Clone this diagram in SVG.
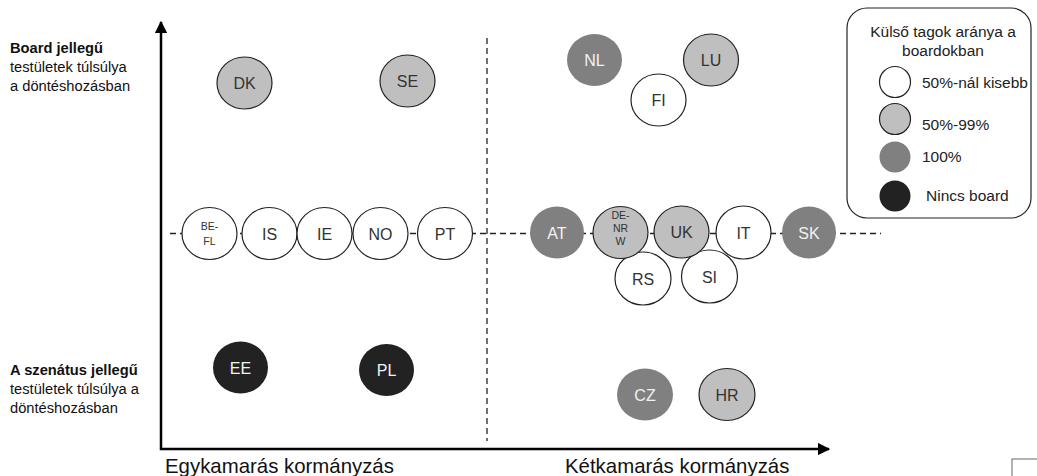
<svg xmlns="http://www.w3.org/2000/svg" width="1037" height="476" viewBox="0 0 1037 476">
<style>
text{font-family:"Liberation Sans",Arial,sans-serif}
.lbl{font-size:16px;text-anchor:middle;fill:#333}
.sm{font-size:10.5px;text-anchor:middle;fill:#333}
.w{fill:#fff;stroke:#222;stroke-width:1.2}
.g{fill:#bfbfbf;stroke:#222;stroke-width:1.2}
.d{fill:#808080}
.b{fill:#222}
.side{font-size:14.7px;fill:#111}
.ax{font-size:20.4px;fill:#111}
.leg{font-size:15.5px;fill:#222}
.dash{stroke:#222;stroke-width:1.3;stroke-dasharray:6 4;fill:none}
</style>
<defs>
<marker id="ah" viewBox="0 0 10 10" refX="9" refY="5" markerWidth="5" markerHeight="5" orient="auto-start-reverse" markerUnits="strokeWidth">
<path d="M0,0 L10,5 L0,10 z" fill="#000"/>
</marker>
</defs>
<rect width="1037" height="476" fill="#fff"/>

<g id="connectors">
<line class="dash" x1="487" y1="38" x2="487" y2="441"/>
<line class="dash" x1="170" y1="233.5" x2="881" y2="233.5"/>
<polyline points="161,28 161,449 822,449" fill="none" stroke="#000" stroke-width="2.5"/>
<line x1="161" y1="32" x2="161" y2="22" stroke="#000" stroke-width="2.5" marker-end="url(#ah)"/>
<line x1="818" y1="449" x2="829" y2="449" stroke="#000" stroke-width="2.5" marker-end="url(#ah)"/>
</g>

<g id="axis-labels">
<text class="side" x="10" y="53" font-weight="bold">Board jellegű</text>
<text class="side" x="10" y="72">testületek túlsúlya</text>
<text class="side" x="10" y="91">a döntéshozásban</text>
<text class="side" x="10" y="375" font-weight="bold">A szenátus jellegű</text>
<text class="side" x="10" y="394">testületek túlsúlya a</text>
<text class="side" x="10" y="413">döntéshozásban</text>
<text class="ax" x="165" y="473">Egykamarás kormányzás</text>
<text class="ax" x="565" y="473">Kétkamarás kormányzás</text>
</g>

<g id="node-DK"><ellipse class="g" cx="244.5" cy="83" rx="27.5" ry="26"/><text class="lbl" x="244.5" y="89">DK</text></g>
<g id="node-SE"><ellipse class="g" cx="407.5" cy="81" rx="27.5" ry="26"/><text class="lbl" x="407.5" y="87">SE</text></g>
<g id="node-NL"><ellipse class="d" cx="594.5" cy="60" rx="27.5" ry="26"/><text class="lbl" x="594.5" y="66" style="fill:#f2f2f2">NL</text></g>
<g id="node-LU"><ellipse class="g" cx="711" cy="60" rx="27.5" ry="26"/><text class="lbl" x="711" y="66">LU</text></g>
<g id="node-FI"><ellipse class="w" cx="658.5" cy="100" rx="27.5" ry="26"/><text class="lbl" x="658.5" y="106">FI</text></g>

<g id="node-BE-FL"><ellipse class="w" cx="209.5" cy="233.5" rx="27.5" ry="26"/><text class="sm" x="209.5" y="230">BE-</text><text class="sm" x="209.5" y="244.5">FL</text></g>
<g id="node-IS"><ellipse class="w" cx="269.5" cy="233.5" rx="27.5" ry="26"/><text class="lbl" x="269.5" y="239.5">IS</text></g>
<g id="node-IE"><ellipse class="w" cx="324.5" cy="233.5" rx="27.5" ry="26"/><text class="lbl" x="324.5" y="239.5">IE</text></g>
<g id="node-NO"><ellipse class="w" cx="380.5" cy="233.5" rx="27.5" ry="26"/><text class="lbl" x="380.5" y="239.5">NO</text></g>
<g id="node-PT"><ellipse class="w" cx="445" cy="233.5" rx="27.5" ry="26"/><text class="lbl" x="445" y="239.5">PT</text></g>

<g id="node-AT"><ellipse class="d" cx="557" cy="232.5" rx="27" ry="26"/><text class="lbl" x="557" y="238.5" style="fill:#f2f2f2">AT</text></g>
<g id="node-RS"><ellipse class="w" cx="643" cy="278.5" rx="28" ry="26.5"/><text class="lbl" x="643" y="284.5">RS</text></g>
<g id="node-SI"><ellipse class="w" cx="709.5" cy="276.5" rx="28" ry="26.5"/><text class="lbl" x="709.5" y="282.5">SI</text></g>
<g id="node-DE-NRW"><ellipse class="g" cx="620.5" cy="232.5" rx="27.5" ry="26"/><text class="sm" x="620.5" y="219">DE-</text><text class="sm" x="620.5" y="232">NR</text><text class="sm" x="620.5" y="245">W</text></g>
<g id="node-UK"><ellipse class="g" cx="681.5" cy="232" rx="27.5" ry="26"/><text class="lbl" x="681.5" y="238">UK</text></g>
<g id="node-IT"><ellipse class="w" cx="743.5" cy="232.5" rx="27.5" ry="26.5"/><text class="lbl" x="743.5" y="238.5">IT</text></g>
<g id="node-SK"><ellipse class="d" cx="809" cy="232.5" rx="27" ry="26"/><text class="lbl" x="809" y="238.5" style="fill:#f2f2f2">SK</text></g>

<g id="node-EE"><ellipse class="b" cx="240.5" cy="367.5" rx="27.5" ry="26"/><text class="lbl" x="240.5" y="373.5" style="fill:#f2f2f2">EE</text></g>
<g id="node-PL"><ellipse class="b" cx="386.5" cy="370" rx="27.5" ry="26"/><text class="lbl" x="386.5" y="376" style="fill:#f2f2f2">PL</text></g>
<g id="node-CZ"><ellipse class="d" cx="645" cy="394.5" rx="28" ry="26"/><text class="lbl" x="645" y="400.5" style="fill:#f2f2f2">CZ</text></g>
<g id="node-HR"><ellipse class="g" cx="727" cy="394.5" rx="28" ry="26"/><text class="lbl" x="727" y="400.5">HR</text></g>

<g id="legend">
<rect x="847" y="8" width="184" height="210" rx="20" ry="20" fill="#fff" stroke="#222" stroke-width="1.2"/>
<text class="leg" x="943" y="37" text-anchor="middle">Külső tagok aránya a</text>
<text class="leg" x="943" y="56" text-anchor="middle">boardokban</text>
<circle class="w" cx="895" cy="82" r="15.5"/>
<text class="leg" x="922" y="88">50%-nál kisebb</text>
<circle class="g" cx="895" cy="119" r="15.5"/>
<text class="leg" x="922" y="130">50%-99%</text>
<circle class="d" cx="895" cy="157" r="15.5"/>
<text class="leg" x="922" y="162">100%</text>
<circle class="b" cx="895" cy="196" r="15.5"/>
<text class="leg" x="926" y="201">Nincs board</text>
</g>

<rect x="1012" y="459" width="40" height="30" fill="#fff" stroke="#666" stroke-width="1"/>
</svg>
